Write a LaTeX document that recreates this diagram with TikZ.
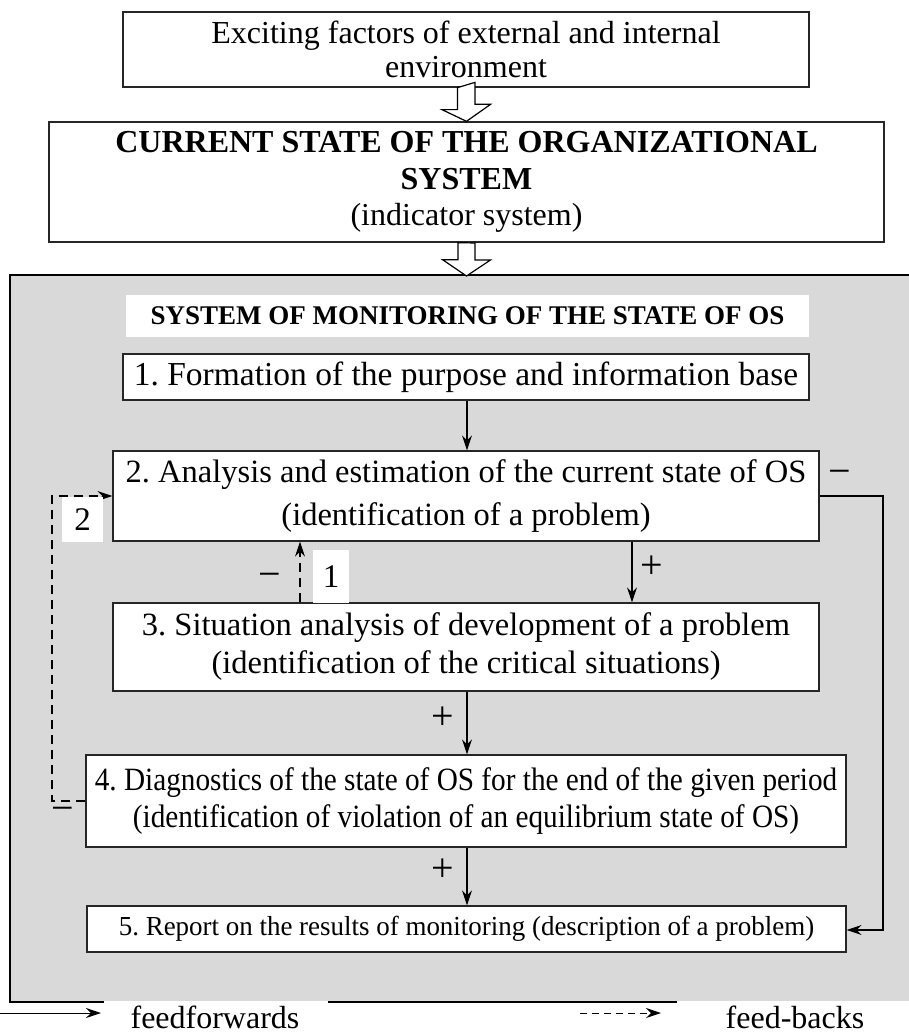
\documentclass[tikz,border=0pt]{standalone}
\usepackage{fontspec}
\setmainfont{Liberation Serif}
\usetikzlibrary{arrows.meta,calc}
\definecolor{panelgray}{RGB}{217,217,217}
\begin{document}
\frenchspacing
\begin{tikzpicture}[x=1pt,y=-1pt,
  box/.style={draw=black!85,line width=1.3pt,fill=white,align=center,inner sep=0pt},
  fwd/.style={-{Stealth[length=15pt,width=10pt,inset=5pt]},line width=1.3pt},
  fb/.style={-{Stealth[length=15pt,width=10pt,inset=5pt]},line width=1.2pt,dash pattern=on 9pt off 6pt},
  hollow/.style={draw=black,line width=1.2pt,fill=white},
  lbl/.style={font=\fontsize{32}{36}\selectfont,inner sep=0pt},
  sign/.style={font=\fontsize{40}{44}\selectfont,inner sep=0pt},
  numbox/.style={fill=white,font=\fontsize{33}{36}\selectfont,inner sep=0pt}]
\useasboundingbox (0,0) rectangle (909,1035);
\clip (0,0) rectangle (909,1035);
% gray panel
\fill[panelgray] (10,275) rectangle (930,1002);
\draw[line width=1.3pt] (930,275) -- (10,275) -- (10,1002) -- (930,1002);
\draw[white,line width=1.8pt] (104,1002) -- (328,1002);
\draw[white,line width=1.8pt] (677,1002) -- (930,1002);
% top boxes
\node[box,minimum width=686pt,minimum height=75pt,font=\fontsize{32}{34}\selectfont] (ext) at (466,49.5)
  {Exciting factors of external and internal\\environment};
\node[box,minimum width=835pt,minimum height=120pt,font=\fontsize{32}{36.5}\selectfont] (cur) at (466.5,182)
  {\textbf{CURRENT STATE OF THE ORGANIZATIONAL}\\\textbf{SYSTEM}\\(indicator system)};
% hollow arrows
\draw[hollow] ($(ext.south)+(-8.5,0)$) -- ++(0,22) -- ++(-15.5,0) -- (cur.north) -- ++(24,-17) -- ++(-15.5,0) -- ++(0,-22) -- cycle;
\draw[hollow] ($(cur.south)+(-8.5,0)$) -- ++(0,17) -- ++(-15.5,0) -- (466.5,276) -- ++(24,-16) -- ++(-15.5,0) -- ++(0,-17) -- cycle;
% monitoring system
\node[fill=white,minimum width=683pt,minimum height=42pt,inner sep=0pt,font=\bfseries\fontsize{27}{30}\selectfont] (title) at (467.5,316)
  {SYSTEM OF MONITORING OF THE STATE OF OS};
\node[box,minimum width=686pt,minimum height=46pt,font=\fontsize{33.5}{36}\selectfont] (b1) at (466,377)
  {1. Formation of the purpose and information base};
\node[box,minimum width=706pt,minimum height=90pt,font=\fontsize{32.5}{43}\selectfont] (b2) at (466,496)
  {2. Analysis and estimation of the current state of OS\\(identification of a problem)};
\node[box,minimum width=706pt,minimum height=88pt,font=\fontsize{32.5}{38}\selectfont] (b3) at (466,647)
  {3. Situation analysis of development of a problem\\(identification of the critical situations)};
\node[box,minimum width=760pt,minimum height=92pt,font=\fontsize{32.5}{37}\selectfont] (b4) at (466,801)
  {\scalebox{0.9}[1]{4. Diagnostics of the state of OS for the end of the given period}\\\scalebox{0.9}[1]{(identification of violation of an equilibrium state of OS)}};
\node[box,minimum width=759pt,minimum height=46pt,font=\fontsize{27.5}{30}\selectfont] (b5) at (466.5,929)
  {\scalebox{0.98}[1]{5. Report on the results of monitoring (description of a problem)}};
% helper coordinates
\coordinate (xc) at (467,0);
\coordinate (x23) at (632,0);
\coordinate (xd1) at (300,0);
\coordinate (yfb) at (0,496);
\coordinate (yfb4) at (0,801);
\coordinate (y5) at (0,930);
\coordinate (rr) at (883,496);
\coordinate (rb) at (883,930);
\coordinate (ll) at (52,496);
\coordinate (lb) at (52,801);
% feedforwards
\draw[fwd] (b1.south -| xc) -- (b2.north -| xc);
\draw[fwd] (b2.south -| x23) -- (b3.north -| x23);
\draw[fwd] (b3.south -| xc) -- (b4.north -| xc);
\draw[fwd] (b4.south -| xc) -- (b5.north -| xc);
\draw[fwd,line width=1.1pt] (b2.east |- yfb) -- (rr) -- (rb) -- (b5.east |- y5);
% feedbacks
\draw[fb] (b3.north -| xd1) -- (b2.south -| xd1);
\draw[fb,line width=1.1pt] (b4.west |- yfb4) -- (lb) -- (ll) -- (b2.west |- yfb);
% labels
\node[sign] (pl23) at (652,567) {+};
\node[sign] (pl34) at (443,718) {+};
\node[sign] (pl45) at (443,870) {+};
\node[sign] (mnr) at (840,477) {−};
\node[sign] (mn1) at (270,580) {−};
\node[sign] (mn4) at (63,814) {−};
\node[numbox,minimum width=41pt,minimum height=45pt] (n2) at (82.5,519.5) {2};
\node[numbox,minimum width=36pt,minimum height=53pt] (n1) at (331,576.5) {1};
% legend
\coordinate (lgA) at (0,1013);
\coordinate (lgB) at (101,1013);
\coordinate (lgC) at (580,1013);
\coordinate (lgD) at (661,1013);
\draw[fwd,line width=1pt] (lgA) -- (lgB);
\draw[fb,line width=1pt,dash pattern=on 7pt off 5pt] (lgC) -- (lgD);
\node[lbl] (lf) at (215,1017) {feedforwards};
\node[lbl] (lb2) at (795,1017) {feed-backs};
\end{tikzpicture}
\end{document}
